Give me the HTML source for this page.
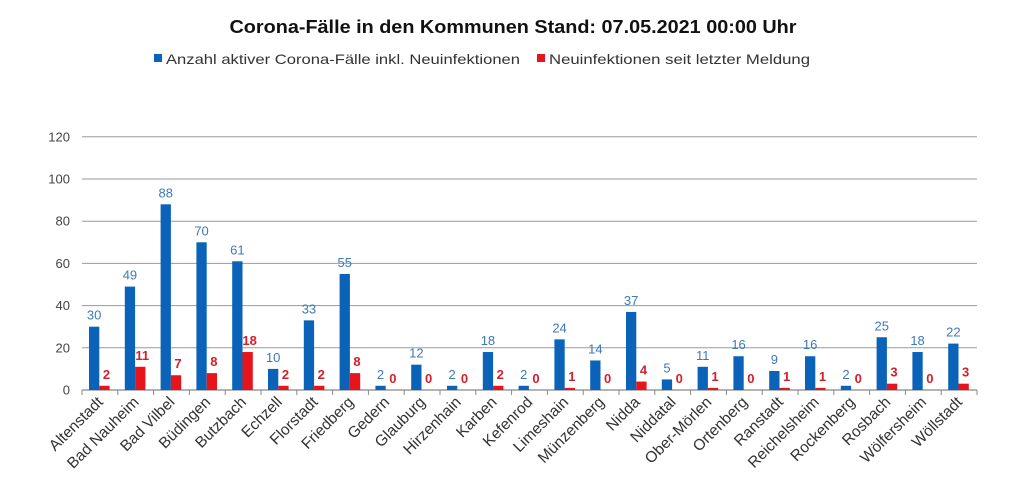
<!DOCTYPE html>
<html><head><meta charset="utf-8"><style>
body{margin:0;background:#fff;width:1024px;height:492px;overflow:hidden}
svg{font-family:"Liberation Sans",sans-serif}
</style></head><body>
<svg width="1024" height="492" xmlns="http://www.w3.org/2000/svg">
<text x="513" y="33" text-anchor="middle" font-size="18" font-weight="bold" fill="#111" textLength="567" lengthAdjust="spacingAndGlyphs">Corona-Fälle in den Kommunen Stand: 07.05.2021 00:00 Uhr</text>
<rect x="154" y="54" width="8" height="8" fill="#0a63b8"/>
<text x="166" y="64" font-size="14" fill="#333" textLength="354" lengthAdjust="spacingAndGlyphs">Anzahl aktiver Corona-Fälle inkl. Neuinfektionen</text>
<rect x="537" y="54" width="8" height="8" fill="#e8141c"/>
<text x="549" y="64" font-size="14" fill="#333" textLength="261" lengthAdjust="spacingAndGlyphs">Neuinfektionen seit letzter Meldung</text>
<g id="chart"></g>
</svg>
<script>
var names=["Altenstadt","Bad Nauheim","Bad Vilbel","Büdingen","Butzbach","Echzell","Florstadt","Friedberg","Gedern","Glauburg","Hirzenhain","Karben","Kefenrod","Limeshain","Münzenberg","Nidda","Niddatal","Ober-Mörlen","Ortenberg","Ranstadt","Reichelsheim","Rockenberg","Rosbach","Wölfersheim","Wöllstadt"];
var a=[30,49,88,70,61,10,33,55,2,12,2,18,2,24,14,37,5,11,16,9,16,2,25,18,22];
var b=[2,11,7,8,18,2,2,8,0,0,0,2,0,1,0,4,0,1,0,1,1,0,3,0,3];
var s="",x0=82,x1=977,y0=390,k=2.11,w=(x1-x0)/25;
for(var v=0;v<=120;v+=20){var y=y0-v*k;
 if(v>0)s+='<line x1="'+x0+'" x2="'+x1+'" y1="'+y+'" y2="'+y+'" stroke="#9a9a9a" stroke-width="1"/>';
 s+='<text x="'+(x0-12)+'" y="'+(y+4.5)+'" text-anchor="end" font-size="13" fill="#444">'+v+'</text>';}
s+='<line x1="'+x0+'" x2="'+x1+'" y1="'+y0+'" y2="'+y0+'" stroke="#888" stroke-width="1.3"/>';
for(var i=0;i<=25;i++){var x=x0+w*i;s+='<line x1="'+x+'" x2="'+x+'" y1="'+y0+'" y2="'+(y0+5)+'" stroke="#888"/>';}
for(var i=0;i<25;i++){var xs=x0+w*i,bx=xs+7,bw=10.3,rx=bx+bw;
 var ha=a[i]*k,hb=b[i]*k;
 s+='<rect x="'+bx+'" y="'+(y0-ha)+'" width="'+bw+'" height="'+ha+'" fill="#0a63b8"/>';
 if(hb>0)s+='<rect x="'+rx+'" y="'+(y0-hb)+'" width="'+bw+'" height="'+hb+'" fill="#e8141c"/>';
 s+='<text x="'+(bx+bw/2)+'" y="'+(y0-ha-7)+'" text-anchor="middle" font-size="13" fill="#3d7ab8">'+a[i]+'</text>';
 var ly=Math.min(y0-hb-7,y0-4);
 s+='<text x="'+(rx+bw/2+2)+'" y="'+ly+'" text-anchor="middle" font-size="13" font-weight="bold" fill="#d3202a">'+b[i]+'</text>';
 var cx=xs+w/2+4,cy=y0+13;
 s+='<text transform="translate('+cx+','+cy+') rotate(-45)" text-anchor="end" font-size="15.5" fill="#333">'+names[i]+'</text>';}
document.getElementById("chart").innerHTML=s;
</script>
</body></html>
